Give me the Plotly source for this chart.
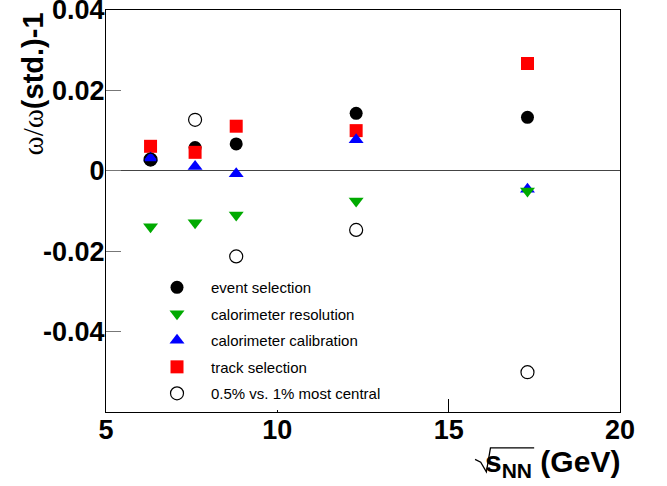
import plotly.graph_objects as go

sqrt_snn = [6.3, 7.6, 8.8, 12.3, 17.3]
event_sel = [0.0028, 0.0058, 0.0067, 0.0143, 0.0133]
calo_res = [-0.0139, -0.0129, -0.0110, -0.0075, -0.0050]
calo_cal = [0.0032, 0.0011, -0.0007, 0.0077, -0.0046]
track_sel = [0.0061, 0.0046, 0.0111, 0.0100, 0.0267]
central = [0.0028, 0.0127, -0.0213, -0.0147, -0.0501]

names = ["event selection", "calorimeter resolution", "calorimeter calibration",
         "track selection", "0.5% vs. 1% most central"]
x_ticks = [5, 10, 15, 20]
y_ticks = [-0.04, -0.02, 0, 0.02, 0.04]
y_ticktext = ["-0.04", "-0.02", "0", "0.02", "0.04"]

FONT = "Liberation Sans"
fig = go.Figure()

# drawing order: event, track, calibration, resolution, central
fig.add_trace(go.Scatter(x=sqrt_snn, y=event_sel, mode="markers", name=names[0],
                         legendrank=1, legendgroup="a",
                         marker=dict(symbol="circle", size=13, color="black", line=dict(width=0))))
fig.add_trace(go.Scatter(x=sqrt_snn, y=track_sel, mode="markers", name=names[3],
                         legendrank=4, legendgroup="d",
                         marker=dict(symbol="square", size=13, color="#ff0000", line=dict(width=0))))
fig.add_trace(go.Scatter(x=sqrt_snn, y=calo_cal, mode="markers", name=names[2],
                         legendrank=3, legendgroup="c",
                         marker=dict(symbol="triangle-up", size=13, color="#0000ff", line=dict(width=0))))
fig.add_trace(go.Scatter(x=sqrt_snn, y=calo_res, mode="markers", name=names[1],
                         legendrank=2, legendgroup="b",
                         marker=dict(symbol="triangle-down", size=13, color="#00aa00", line=dict(width=0))))
fig.add_trace(go.Scatter(x=sqrt_snn, y=central, mode="markers", name=names[4],
                         legendrank=5, legendgroup="e",
                         marker=dict(symbol="circle-open", size=13, color="black", line=dict(width=1.2))))

fig.update_layout(
    width=667, height=486,
    margin=dict(l=106, r=47, t=10, b=74, autoexpand=False),
    plot_bgcolor="white", paper_bgcolor="white",
    font=dict(family=FONT, color="black"),
    showlegend=True,
    legend=dict(x=0.072, y=0.3505, xanchor="left", yanchor="top",
                font=dict(family=FONT, size=15, color="black"),
                bgcolor="rgba(255,255,255,1)", borderwidth=0,
                itemwidth=58, tracegroupgap=4, itemsizing="trace",
                traceorder="grouped"),
    xaxis=dict(range=[5, 20], tickvals=x_ticks, ticktext=[str(v) for v in x_ticks],
               ticks="inside", ticklen=13, tickcolor="black", tickwidth=1,
               showline=True, mirror=True, linecolor="black", linewidth=1,
               showgrid=False, zeroline=False, ticklabelstandoff=-6,
               ticklabeloverflow="allow", automargin=False,
               tickfont=dict(family=FONT, size=27, weight="bold", color="black")),
    yaxis=dict(range=[-0.06, 0.04001], tickvals=y_ticks, ticktext=y_ticktext,
               ticks="inside", ticklen=15, tickcolor="#777777", tickwidth=1,
               showline=True, mirror=True, linecolor="black", linewidth=1,
               showgrid=False, zeroline=True, zerolinecolor="#444444", zerolinewidth=1,
               ticklabelstandoff=-5, ticklabeloverflow="allow", automargin=False,
               tickfont=dict(family=FONT, size=27, weight="bold", color="black")),
)

fig.add_annotation(xref="paper", yref="paper", x=-0.142, y=0.815, xanchor="center", yanchor="middle",
                   text="<span style='font-family:Liberation Serif'>ω/ω</span><b>(std.)-1</b>",
                   textangle=-90, showarrow=False,
                   font=dict(family=FONT, size=29, color="black"))
fig.add_annotation(xref="paper", yref="paper", x=1.004, y=-0.128, xanchor="right", yanchor="middle",
                   text="<b>s<sub>NN</sub> (GeV)</b>",
                   showarrow=False, font=dict(family=FONT, size=30, color="black"))
# radical sign over s_NN
fig.add_shape(type="path", xref="paper", yref="paper",
              path="M 0.718,-0.118 L 0.729,-0.125 L 0.740,-0.149 L 0.748,-0.089 L 0.833,-0.089",
              line=dict(color="black", width=1.3))

fig.write_html("out.html", config={"displayModeBar": False},
               post_script="document.body.style.margin='0';")
